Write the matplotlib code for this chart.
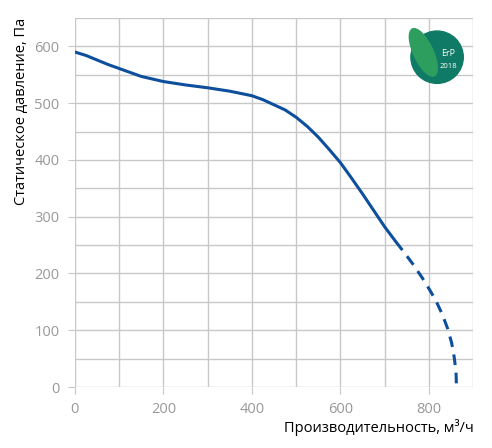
import matplotlib
matplotlib.use("Agg")
import matplotlib.pyplot as plt
from matplotlib.patches import Circle, Ellipse

plt.rcParams["font.family"] = ["Open Sans", "DejaVu Sans"]

# solid part of the curve
flow_solid = [0, 25, 50, 75, 100, 150, 200, 250, 300, 350, 400, 425, 450, 475, 500,
              525, 550, 575, 600, 625, 650, 675, 700, 725]
press_solid = [590, 584, 576, 568, 561, 547, 538, 532, 527, 521, 513, 506, 497, 488, 475,
               459, 440, 418, 395, 368, 340, 311, 282, 256]
# dashed extrapolation
flow_dash = [725, 745, 765, 785, 800, 815, 830, 842, 851, 857, 861, 862]
press_dash = [256, 236, 215, 192, 173, 153, 128, 103, 78, 52, 26, 0]

BLUE = "#0d4f9c"
GRID = "#c8c8c8"
TICK = "#999999"

fig = plt.figure(figsize=(4.92, 4.48), dpi=100)
ax = fig.add_axes([0.152, 0.136, 0.81, 0.824])
ax.plot(flow_solid, press_solid, color=BLUE, lw=2.2, solid_capstyle="round")
ax.plot(flow_dash, press_dash, color=BLUE, lw=2.2, ls=(0, (3.5, 2.5)))

ax.set_xlim(0, 900)
ax.set_ylim(0, 645)
ax.set_xticks(range(0, 901, 200))
ax.set_xticks(range(0, 901, 100), minor=True)
ax.set_yticks(range(0, 601, 100))
ax.set_yticks(range(0, 651, 50), minor=True)
ax.grid(True, which="both", color=GRID, lw=1)
ax.set_axisbelow(True)
for s in ax.spines.values():
    s.set_visible(False)
ax.tick_params(which="both", length=0, colors=TICK, labelsize=10.5, pad=6)
ax.tick_params(axis="both", which="major", length=5, color=GRID)

ax.set_xlabel("Производительность, м³/ч", fontsize=10.5, loc="right", labelpad=1)
ax.set_ylabel("Статическое давление, Па", fontsize=10.5, loc="top")
ax.yaxis.set_label_coords(-0.115, 1.0)

# ErP 2018 badge
lax = fig.add_axes([0.81, 0.80, 0.14, 0.16])
lax.set_xlim(0, 1); lax.set_ylim(0, 1); lax.set_aspect("equal"); lax.axis("off")
lax.add_patch(Circle((0.56, 0.45), 0.38, color="#0f7a66"))
lax.add_patch(Ellipse((0.36, 0.52), 0.28, 0.75, angle=25, color="#2e9e5e"))
lax.text(0.72, 0.5, "ErP", color="white", fontsize=6.5, ha="center", va="center")
lax.text(0.72, 0.32, "2018", color="white", fontsize=5.5, ha="center", va="center")

fig.savefig("out.png", dpi=100)
